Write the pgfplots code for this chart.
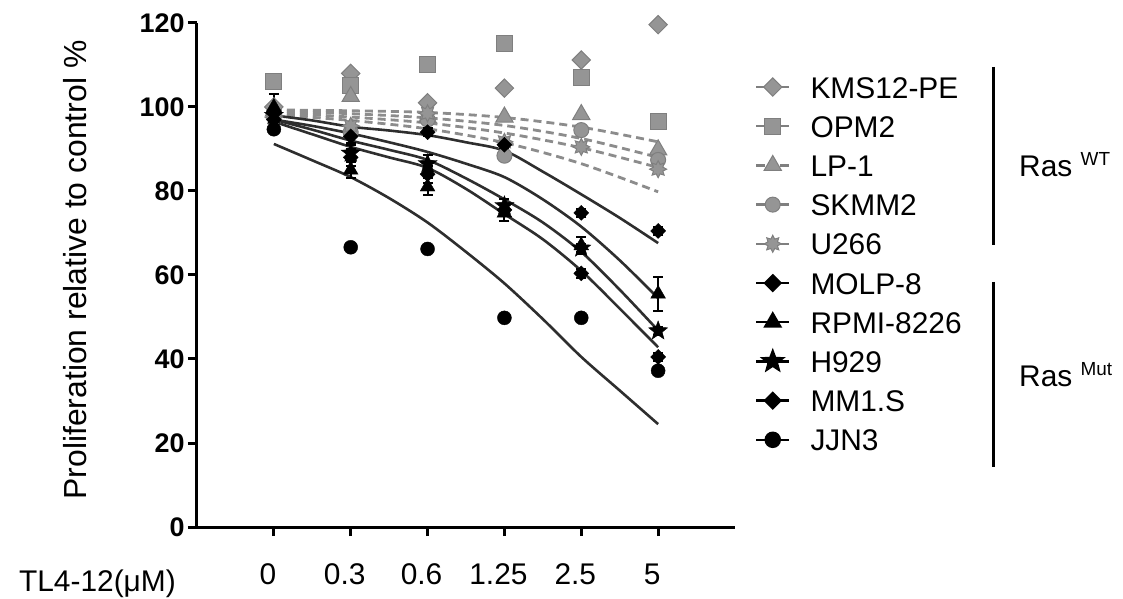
\documentclass[border=0pt]{standalone}
\usepackage{fontspec}
\setmainfont{Liberation Sans}
\usepackage{pgfplots}
\pgfplotsset{compat=1.18}
\usetikzlibrary{plotmarks}
\definecolor{mg}{HTML}{7F7F7F}
\definecolor{mf}{HTML}{959595}
\definecolor{dg}{HTML}{8C8C8C}
\definecolor{fitk}{HTML}{2E2E2E}

\pgfdeclareplotmark{fstar}{%
  \pgfpathmoveto{\pgfpointpolar{90}{\pgfplotmarksize}}%
  \pgfpathlineto{\pgfpointpolar{126}{0.42\pgfplotmarksize}}%
  \pgfpathlineto{\pgfpointpolar{162}{\pgfplotmarksize}}%
  \pgfpathlineto{\pgfpointpolar{198}{0.42\pgfplotmarksize}}%
  \pgfpathlineto{\pgfpointpolar{234}{\pgfplotmarksize}}%
  \pgfpathlineto{\pgfpointpolar{270}{0.42\pgfplotmarksize}}%
  \pgfpathlineto{\pgfpointpolar{306}{\pgfplotmarksize}}%
  \pgfpathlineto{\pgfpointpolar{342}{0.42\pgfplotmarksize}}%
  \pgfpathlineto{\pgfpointpolar{18}{\pgfplotmarksize}}%
  \pgfpathlineto{\pgfpointpolar{54}{0.42\pgfplotmarksize}}%
  \pgfpathclose\pgfusepathqfillstroke}
\pgfdeclareplotmark{burst}{%
  \pgfpathmoveto{\pgfpointpolar{0}{\pgfplotmarksize}}%
  \pgfpathlineto{\pgfpointpolar{22.5}{0.6\pgfplotmarksize}}%
  \pgfpathlineto{\pgfpointpolar{45}{\pgfplotmarksize}}%
  \pgfpathlineto{\pgfpointpolar{67.5}{0.6\pgfplotmarksize}}%
  \pgfpathlineto{\pgfpointpolar{90}{\pgfplotmarksize}}%
  \pgfpathlineto{\pgfpointpolar{112.5}{0.6\pgfplotmarksize}}%
  \pgfpathlineto{\pgfpointpolar{135}{\pgfplotmarksize}}%
  \pgfpathlineto{\pgfpointpolar{157.5}{0.6\pgfplotmarksize}}%
  \pgfpathlineto{\pgfpointpolar{180}{\pgfplotmarksize}}%
  \pgfpathlineto{\pgfpointpolar{202.5}{0.6\pgfplotmarksize}}%
  \pgfpathlineto{\pgfpointpolar{225}{\pgfplotmarksize}}%
  \pgfpathlineto{\pgfpointpolar{247.5}{0.6\pgfplotmarksize}}%
  \pgfpathlineto{\pgfpointpolar{270}{\pgfplotmarksize}}%
  \pgfpathlineto{\pgfpointpolar{292.5}{0.6\pgfplotmarksize}}%
  \pgfpathlineto{\pgfpointpolar{315}{\pgfplotmarksize}}%
  \pgfpathlineto{\pgfpointpolar{337.5}{0.6\pgfplotmarksize}}%
  \pgfpathclose\pgfusepathqfillstroke}

\pgfplotsset{
  gdia/.style={mark=square*, mark size=6.5bp, mark options={solid, rotate=45, draw=mg, fill=mf, line width=1bp}},
  gsq/.style={mark=square*, mark size=8bp, mark options={solid, draw=mg, fill=mf, line width=1bp}},
  gtri/.style={mark=triangle*, mark size=10bp, mark options={solid, draw=mg, fill=mf, line width=1bp}},
  gcir/.style={mark=*, mark size=7.5bp, mark options={solid, draw=mg, fill=mf, line width=1bp}},
  gbur/.style={mark=burst, mark size=8.5bp, mark options={solid, draw=mg, fill=mf, line width=1bp}},
  kdia/.style={mark=square*, mark size=5.3bp, mark options={solid, rotate=45, draw=black, fill=black}},
  ktri/.style={mark=triangle*, mark size=8.5bp, mark options={solid, draw=black, fill=black}},
  kstar/.style={mark=fstar, mark size=10bp, mark options={solid, draw=black, fill=black}},
  kcir/.style={mark=*, mark size=7bp, mark options={solid, draw=black, fill=black}},
  dfit/.style={dg, line width=2.8bp, dash pattern=on 8bp off 5bp, smooth},
  kfit/.style={fitk, line width=2.6bp, smooth},
  ebar/.style={error bars/.cd, y dir=both, y explicit,
     error bar style={line width=2bp, black},
     error mark options={rotate=90, mark size=5bp, line width=2bp, black}},
}

\begin{document}
\begin{tikzpicture}
\useasboundingbox (-197bp,-72bp) rectangle (926bp,527bp);
\begin{axis}[
  scale only axis, width=538bp, height=504bp,
  xmin=-1, xmax=6, ymin=0, ymax=120,
  axis lines=left,
  axis line style={-, line width=3bp, black},
  xtick={0,1,2,3,4,5}, xticklabels={0,0.3,0.6,1.25,2.5,5},
  ytick={0,20,40,60,80,100,120},
  tick align=outside, major tick length=9bp,
  tick style={line width=3bp, black},
  /pgf/number format/assume math mode=true,
  yticklabel style={font=\fontsize{27}{27}\selectfont\bfseries},
  xticklabel style={font=\fontsize{30}{30}\selectfont, yshift=-24bp, xshift=-6bp},
  xlabel={TL4-12(μM)},
  ylabel={Proliferation relative to control \%},
  every axis x label/.style={at={(axis description cs:-0.185,-0.113)}, anchor=center, font=\fontsize{30}{30}\selectfont},
  every axis y label/.style={at={(axis description cs:-0.2268,0.51)}, anchor=center, rotate=90, font=\fontsize{32}{32}\selectfont},
  clip=false,
  legend style={at={(1.0372,0.8948)}, anchor=north west, draw=none, fill=none,
    inner sep=0pt, outer sep=0pt, font=\fontsize{30}{30}\selectfont,
    row sep=17.2bp,
    nodes={inner sep=0pt, text height=22bp, text depth=0bp},
    /tikz/every odd column/.append style={column sep=20bp}},
  legend cell align=left,
  legend image code/.code={\draw[mark repeat=2,mark phase=2] plot coordinates {(0bp,0bp) (16.5bp,0bp) (33bp,0bp)};},
]
% legend entries
\addlegendimage{mg, line width=2.5bp, gdia}
\addlegendentry{KMS12-PE}
\addlegendimage{mg, line width=2.5bp, dash pattern=on 9bp off 3bp, gsq}
\addlegendentry{OPM2}
\addlegendimage{mg, line width=2.5bp, dash pattern=on 9bp off 3bp, gtri}
\addlegendentry{LP-1}
\addlegendimage{mg, line width=2.5bp, dash pattern=on 9bp off 3bp, gcir}
\addlegendentry{SKMM2}
\addlegendimage{mg, line width=2.5bp, dash pattern=on 9bp off 3bp, gbur}
\addlegendentry{U266}
\addlegendimage{black, line width=2.5bp, kdia}
\addlegendentry{MOLP-8}
\addlegendimage{black, line width=2.5bp, ktri}
\addlegendentry{RPMI-8226}
\addlegendimage{black, line width=2.5bp, kstar}
\addlegendentry{H929}
\addlegendimage{black, line width=2.5bp, kdia}
\addlegendentry{MM1.S}
\addlegendimage{black, line width=2.5bp, kcir}
\addlegendentry{JJN3}

% dashed fits (Ras WT)
\addplot[dfit, forget plot] coordinates {(0,99.3)(1,99.1)(2,98.7)(3,97.5)(4,95.2)(5,91.7)};
\addplot[dfit, forget plot] coordinates {(0,99.0)(1,98.4)(2,97.4)(3,95.6)(4,92.5)(5,88.0)};
\addplot[dfit, forget plot] coordinates {(0,98.6)(1,97.6)(2,96.2)(3,93.8)(4,90.3)(5,85.6)};
\addplot[dfit, forget plot] coordinates {(0,98.2)(1,96.8)(2,94.8)(3,91.5)(4,86.5)(5,79.8)};

% solid fits (Ras Mut)
\addplot[kfit, forget plot] coordinates {(0,98.0)(0.5,96.8)(1,95.3)(1.5,94.4)(2,93.3)(2.5,91.6)(3,89.6)(3.5,84.6)(4,79.2)(4.5,73.6)(5,67.6)};
\addplot[kfit, forget plot] coordinates {(0,97.0)(0.5,95.5)(1,93.7)(1.5,91.6)(2,89.3)(2.5,86.5)(3,83.3)(3.5,78.0)(4,71.5)(4.5,63.5)(5,54.5)};
\addplot[kfit, forget plot] coordinates {(0,97.0)(0.5,94.6)(1,92.0)(1.5,89.8)(2,87.4)(2.5,83.0)(3,78.0)(3.5,72.5)(4,65.5)(4.5,56.5)(5,46.8)};
\addplot[kfit, forget plot] coordinates {(0,96.5)(0.5,93.5)(1,90.5)(1.5,88.0)(2,85.5)(2.5,80.5)(3,74.5)(3.5,68.5)(4,61.0)(4.5,52.0)(5,42.8)};
\addplot[kfit, forget plot] coordinates {(0,91.2)(0.5,87.3)(1,83.3)(1.5,78.3)(2,72.5)(2.5,65.5)(3,58.0)(3.5,49.5)(4,40.5)(4.5,32.5)(5,24.5)};

% gray data (Ras WT)
\addplot[only marks, gdia, forget plot] coordinates {(0,100)(1,108)(2,101)(3,104.5)(4,111.2)(5,119.6)};
\addplot[only marks, gsq, forget plot] coordinates {(0,106)(1,105)(2,110)(3,115)(4,107)(5,96.5)};
\addplot[only marks, gtri, forget plot] coordinates {(0,99)(1,102.5)(2,97.5)(3,97.6)(4,98.2)(5,89.8)};
\addplot[only marks, gcir, forget plot] coordinates {(0,98)(1,94)(2,97)(3,88.4)(4,94.5)(5,87.4)};
\addplot[only marks, gbur, forget plot] coordinates {(0,97.5)(1,95.5)(2,98.5)(3,91.7)(4,90.5)(5,85.2)};

% black data (Ras Mut)
\addplot[only marks, kdia, forget plot, ebar] coordinates {(0,97) +- (0,2) (1,93) +- (0,1.5) (2,94) +- (0,1) (3,91) +- (0,1) (4,74.8) +- (0,1) (5,70.5) +- (0,1)};
\addplot[only marks, ktri, forget plot, ebar] coordinates {(0,100) +- (0,3) (1,85) +- (0,2) (2,81) +- (0,2) (3,74.8) +- (0,2) (4,67) +- (0,2) (5,55.5) +- (0,4)};
\addplot[only marks, kstar, forget plot, ebar] coordinates {(0,98) +- (0,2) (1,89) +- (0,2) (2,86.5) +- (0,2) (3,76.5) +- (0,1.5) (4,66.4) +- (0,1) (5,46.7) +- (0,1)};
\addplot[only marks, kdia, forget plot, ebar] coordinates {(0,99) +- (0,2) (1,88) +- (0,2) (2,84) +- (0,2) (3,75.5) +- (0,1.5) (4,60.4) +- (0,1) (5,40.5) +- (0,1)};
\addplot[only marks, kcir, forget plot] coordinates {(0,94.7)(1,66.6)(2,66.2)(3,49.8)(4,49.8)(5,37.2)};
\end{axis}
% group brackets
\draw[line width=3bp] (796bp,460bp) -- (796bp,282bp);
\draw[line width=3bp] (796bp,245bp) -- (796bp,60bp);
\node[anchor=west, inner sep=0pt, font=\fontsize{30}{30}\selectfont] at (822bp,362bp) {Ras {\fontsize{19}{19}\selectfont\raisebox{11bp}{WT}}};
\node[anchor=west, inner sep=0pt, font=\fontsize{30}{30}\selectfont] at (822bp,152bp) {Ras {\fontsize{19}{19}\selectfont\raisebox{11bp}{Mut}}};
\end{tikzpicture}
\end{document}
